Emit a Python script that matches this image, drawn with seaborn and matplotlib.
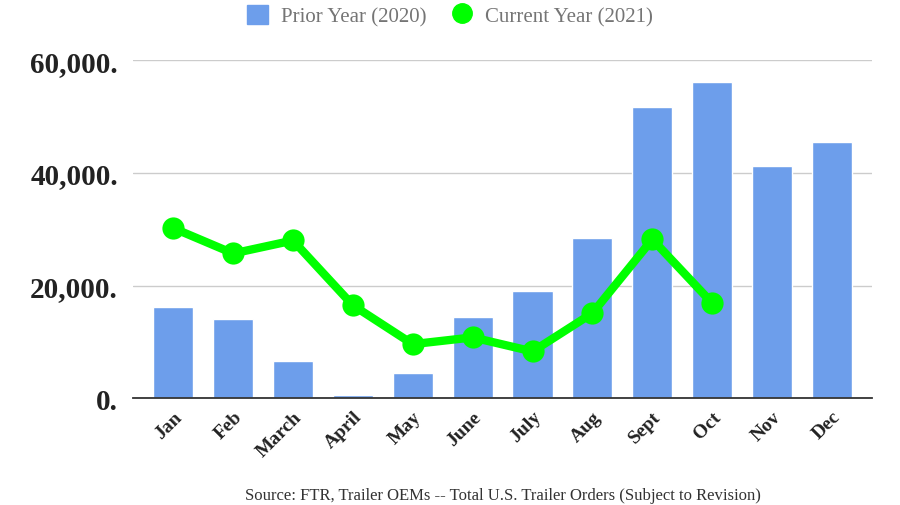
import pandas as pd
import matplotlib.pyplot as plt
import seaborn as sns
from matplotlib.lines import Line2D
from matplotlib.patches import Patch

months = ['Jan', 'Feb', 'March', 'April', 'May', 'June', 'July', 'Aug', 'Sept', 'Oct', 'Nov', 'Dec']
prior_2020 = [16200, 14000, 6600, 600, 4400, 14400, 19000, 28400, 51700, 56100, 41200, 45400]
current_months = months[:10]
current_2021 = [30200, 25700, 28000, 16500, 9600, 10800, 8300, 15100, 28200, 16900]

sns.set_theme(style='white')
plt.rcParams['font.family'] = ['Liberation Serif', 'DejaVu Serif']

fig, ax = plt.subplots(figsize=(9, 5.06), dpi=100)
fig.subplots_adjust(left=0.148, right=0.969, top=0.879, bottom=0.211)

df_bar = pd.DataFrame({'month': months, 'orders': prior_2020})
sns.barplot(data=df_bar, x='month', y='orders', color='#6d9eeb', saturation=1,
            width=0.67, ax=ax, zorder=2)

df_line = pd.DataFrame({'month': current_months, 'orders': current_2021})
sns.lineplot(data=df_line, x='month', y='orders', color='#00ff00', linewidth=6,
             marker='o', markersize=16, markeredgewidth=0, sort=False, ax=ax, zorder=3)

ax.set_ylim(0, 60000)
ax.set_xlim(-0.668, 11.67)
ax.set_yticks([0, 20000, 40000, 60000])
ax.set_yticklabels(['0.', '20,000.', '40,000.', '60,000.'], fontsize=21, fontweight='bold', color='#222222')
ax.tick_params(axis='y', length=0, pad=11)
ax.set_xticks(range(len(months)))
ax.set_xticklabels(months, rotation=45, ha='right', rotation_mode='anchor',
                   fontsize=14, fontweight='bold', color='#222222')
ax.tick_params(axis='x', length=0, pad=7)
ax.set_xlabel('')
ax.set_ylabel('')
ax.yaxis.grid(True, color='#cccccc', linewidth=1, zorder=0)
for s in ['top', 'right', 'left']:
    ax.spines[s].set_visible(False)
ax.spines['bottom'].set_color('#333333')
ax.spines['bottom'].set_linewidth(1.3)

handles = [Patch(color='#6d9eeb', label='Prior Year (2020)'),
           Line2D([], [], marker='o', color='#00ff00', linestyle='', markersize=14,
                  label='Current Year (2021)')]
fig.legend(handles=handles, loc='upper center', bbox_to_anchor=(0.5, 1.025), ncol=2,
           frameon=False, fontsize=15, labelcolor='#757575', handlelength=1.0,
           handleheight=1.0, columnspacing=1.2, handletextpad=0.6)

fig.text(0.559, 0.012, 'Source: FTR, Trailer OEMs -- Total U.S. Trailer Orders (Subject to Revision)',
         ha='center', fontsize=12, color='#333333')

fig.savefig('out.png', dpi=100)
